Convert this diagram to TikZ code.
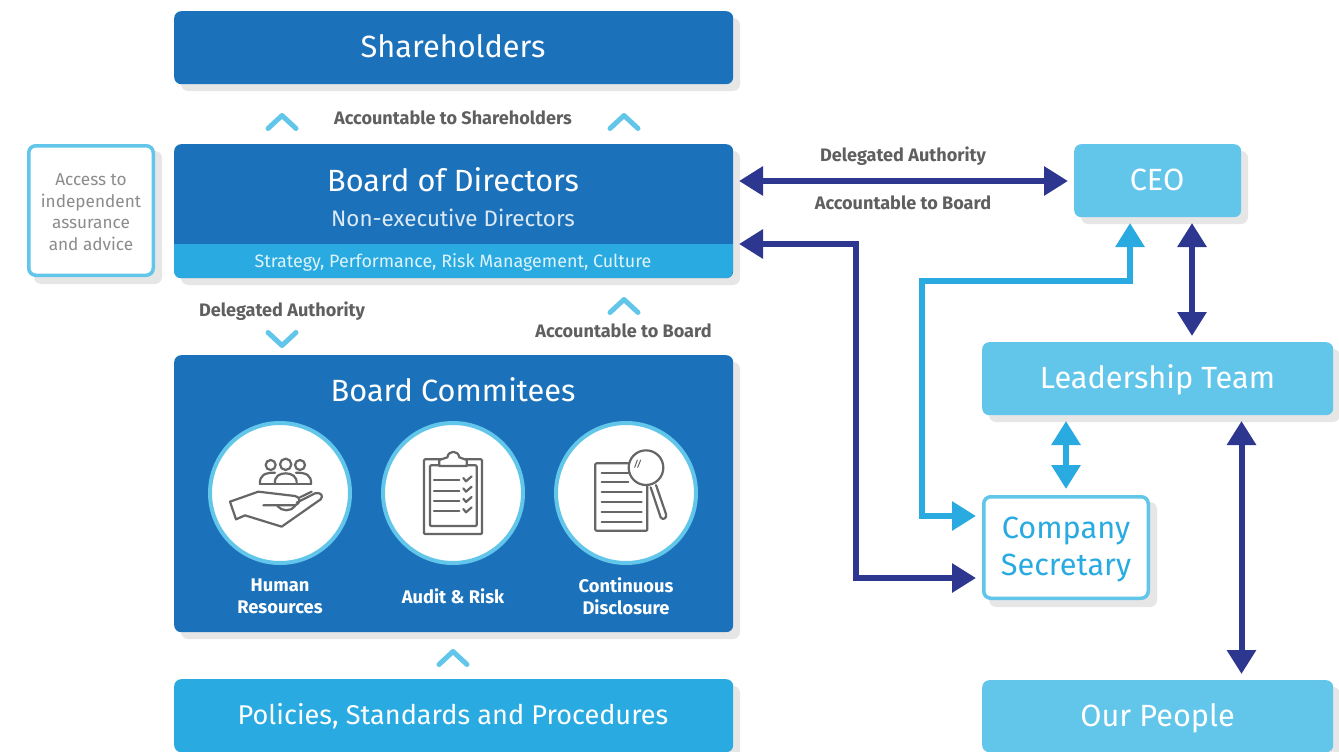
\documentclass[tikz,border=0pt]{standalone}
\usepackage{fontspec}
\setmainfont{Fira Sans}
\usetikzlibrary{arrows.meta,calc}
\definecolor{dblue}{HTML}{1C72BA}
\definecolor{mblue}{HTML}{29ABE2}
\definecolor{lblue}{HTML}{62C6EA}
\definecolor{navy}{HTML}{2E3790}
\definecolor{shadowgrey}{HTML}{E6E6E6}
\definecolor{gtext}{HTML}{5F5F5F}
\definecolor{icon}{HTML}{666666}
\tikzset{
  x=1pt,y=-1pt,
  card/.style={rounded corners=7pt,inner sep=0pt,align=center,text=white,anchor=north west},
  filledcard/.style={card,fill=#1},
  outlined/.style={card,fill=white,draw=lblue,line width=3.5pt},
  captxt/.style={text=gtext,font=\bfseries\fontsize{18.1}{20}\selectfont,inner sep=0pt},
  wcap/.style={text=white,font=\bfseries\fontsize{18.3}{22}\selectfont,inner sep=0pt,align=center},
  bigtxt/.style={text=white,font=\fontsize{30.7}{34}\selectfont,inner sep=0pt},
  chev/.style={draw=lblue,line width=5pt,line cap=round,line join=round},
  navyarr/.style={draw=navy,line width=6pt,line join=miter,shorten >=6pt,shorten <=6pt,arrows={Triangle[length=24pt,width=28pt,fill=navy]-Triangle[length=24pt,width=28pt,fill=navy]}},
  bluearr/.style={draw=mblue,line width=6pt,line join=miter,shorten >=6pt,shorten <=6pt,arrows={Triangle[length=24pt,width=28pt,fill=mblue]-Triangle[length=24pt,width=28pt,fill=mblue]}},
  roundel/.style={circle,fill=white,draw=lblue,line width=4pt,minimum size=140pt,inner sep=0pt},
  ic/.style={draw=icon,line width=2.2pt,line join=round,line cap=round},
}
\newcommand{\shadowbox}[4]{\fill[shadowgrey,rounded corners=7pt] (#1+7,#2+7) rectangle (#3+7,#4+7);}
\newcommand{\chevup}[2]{\draw[chev] (#1-14,#2+6.5) -- (#1,#2-6.5) -- (#1+14,#2+6.5);}
\newcommand{\chevdown}[2]{\draw[chev] (#1-14,#2-6.5) -- (#1,#2+6.5) -- (#1+14,#2-6.5);}
\begin{document}
\begin{tikzpicture}
\useasboundingbox (0,0) rectangle (1339,752);
% shadows
\shadowbox{174}{11}{733}{84}
\shadowbox{27}{144}{155}{277}
\shadowbox{174}{144}{733}{278}
\shadowbox{174}{355}{733}{632}
\shadowbox{174}{679}{733}{752}
\shadowbox{1074}{144}{1241}{217}
\shadowbox{982}{342}{1333}{415}
\shadowbox{982}{495}{1150}{600}
\shadowbox{982}{680}{1333}{752}
% cards
\node[filledcard=dblue,minimum width=559pt,minimum height=73pt] (share) at (174,11) {};
\node[bigtxt] (sharet) at (453,46.5) {Shareholders};
\node[filledcard=dblue,minimum width=559pt,minimum height=134pt] (board) at (174,144) {};
\begin{scope}
\clip[rounded corners=7pt] (174,144) rectangle (733,278);
\fill[mblue] (174,244) rectangle (733,278);
\end{scope}
\node[bigtxt] (boardt) at (453,180) {Board of Directors};
\node[text=white!85!dblue,font=\fontsize{22.4}{25}\selectfont,inner sep=0pt] (boards) at (453,218) {Non-executive Directors};
\node[text=white!85!mblue,font=\fontsize{17.9}{20}\selectfont,inner sep=0pt] (boardu) at (453,262.5) {Strategy, Performance, Risk Management, Culture};
\node[outlined,minimum width=124.5pt,minimum height=129.5pt] (access) at (27,144) {};
\node[text=icon!75!white,font=\fontsize{17.2}{21.5}\selectfont,align=center,inner sep=0pt] (accesst) at (91,212) {Access to\\independent\\assurance\\and advice};
\node[filledcard=dblue,minimum width=559pt,minimum height=277pt] (comm) at (174,355) {};
\node[bigtxt] (commt) at (453,390) {Board Commitees};
\node[filledcard=mblue,minimum width=559pt,minimum height=73pt] (pol) at (174,679) {};
\node[text=white,font=\fontsize{27.1}{30}\selectfont,inner sep=0pt] (polt) at (453,716) {Policies, Standards and Procedures};
\node[filledcard=lblue,minimum width=167pt,minimum height=73pt] (ceo) at (1074,144) {};
\node[bigtxt] (ceot) at (1157,179.5) {CEO};
\node[filledcard=lblue,minimum width=351pt,minimum height=73pt] (lead) at (982,342) {};
\node[bigtxt] (leadt) at (1157.5,380) {Leadership Team};
\node[outlined,minimum width=164.5pt,minimum height=101.5pt] (sec) at (982,495) {};
\node[text=mblue,font=\fontsize{30.7}{37.5}\selectfont,align=center,inner sep=0pt] (sect) at (1066,549.5) {Company\\Secretary};
\node[filledcard=lblue,minimum width=351pt,minimum height=72pt] (people) at (982,680) {};
\node[bigtxt] (peoplet) at (1157.5,718) {Our People};
% captions
\node[captxt] (c1) at (453,118) {Accountable to Shareholders};
\node[captxt] (c2) at (282,311) {Delegated Authority};
\node[captxt] (c3) at (623.5,331) {Accountable to Board};
\node[captxt] (c4) at (903,156) {Delegated Authority};
\node[captxt] (c5) at (903,203) {Accountable to Board};
% chevrons
\chevup{282}{122}
\chevup{624}{122}
\chevdown{282}{339}
\chevup{624}{306}
\chevup{453}{658}
% connectors
\coordinate (b1) at (733,181);
\coordinate (b2) at (733,244);
\coordinate (s1) at (982,516);
\coordinate (s2) at (982,578);
\coordinate (e1) at (1130,217);
\coordinate (e2) at (1192,217);
\coordinate (l1) at (1066,415);
\coordinate (l2) at (1241.5,415);
\coordinate (n1) at (856,244);
\coordinate (n2) at (856,578);
\coordinate (m1) at (1130,281);
\coordinate (m2) at (922,281);
\coordinate (m3) at (922,516);
\draw[navyarr] (b1) -- (ceo.west |- b1);
\draw[navyarr] (e2) -- (e2 |- lead.north);
\draw[navyarr] (l2) -- (l2 |- people.north);
\draw[navyarr] (b2) -- (n1) -- (n2) -- (s2);
\draw[bluearr] (l1) -- (l1 |- sec.north);
\draw[bluearr] (s1) -- (m3) -- (m2) -- (m1) -- (e1);
% roundels
\node[roundel] (r1) at (280,493) {};
\node[roundel] (r2) at (453,493) {};
\node[roundel] (r3) at (626,493) {};
\node[wcap] (w1) at (280,596) {Human\\Resources};
\node[wcap] (w2) at (453,596) {Audit \& Risk};
\node[wcap] (w3) at (626,596) {Continuous\\Disclosure};
% icons, in the coordinates of the 3x crop
\begin{scope}[shift={(200,410)},x=.33333pt,y=-.33333pt]
 % people
 \draw[ic] (212,165) circle (15pt/3);
 \draw[ic] (257,163) circle (17pt/3);
 \draw[ic] (300,165) circle (15pt/3);
 \draw[ic] (180,222) -- (333,222);
 \draw[ic] (180,222) .. controls (178,195) and (195,188) .. (225,188);
 \draw[ic] (333,222) .. controls (335,195) and (318,188) .. (288,188);
 \draw[ic] (225,222) .. controls (222,198) and (240,190) .. (257,190) .. controls (274,190) and (292,198) .. (290,222);
 % hand
 \draw[ic] (90,275) -- (175,245) -- (285,258) .. controls (300,260) and (305,278) .. (285,286) -- (190,286);
 \draw[ic] (90,275) -- (108,328) -- (135,316) -- (245,350) -- (362,268) .. controls (372,258) and (362,245) .. (345,250) -- (290,278);
 \draw[ic] (300,262) -- (335,245);
 \draw[ic] (232,288) .. controls (245,305) and (275,305) .. (285,288);
 % clipboard
 \draw[ic,rounded corners=1pt] (672,148) rectangle (846,372);
 \draw[ic,rounded corners=1pt] (690,166) rectangle (830,348);
 \draw[ic,fill=white] (718,168) -- (718,150) -- (742,142) .. controls (745,120) and (775,120) .. (778,142) -- (800,150) -- (800,168) -- cycle;
 \foreach \yy in {211,242,273,304}{
  \draw[ic] (702,\yy) -- (778,\yy);
  \draw[ic] (790,\yy-7) -- (798,\yy+3) -- (815,\yy-12);
 }
 % document
 \draw[ic,rounded corners=1pt] (1186,160) rectangle (1342,362);
 \foreach \yy in {188,217}{\draw[ic] (1205,\yy) -- (1285,\yy);}
 \foreach \yy in {246,276,305,335}{\draw[ic] (1205,\yy) -- (1325,\yy);}
 \draw[ic,fill=white] (1352,232) -- (1382,322) .. controls (1388,332) and (1402,325) .. (1398,312) -- (1368,225);
 \draw[ic,fill=white] (1338,173) circle (52pt/3);
 \draw[ic,line width=1pt] (1304,172) -- (1312,150);
 \draw[ic,line width=1pt] (1313,172) -- (1322,150);
\end{scope}
\end{tikzpicture}
\end{document}
